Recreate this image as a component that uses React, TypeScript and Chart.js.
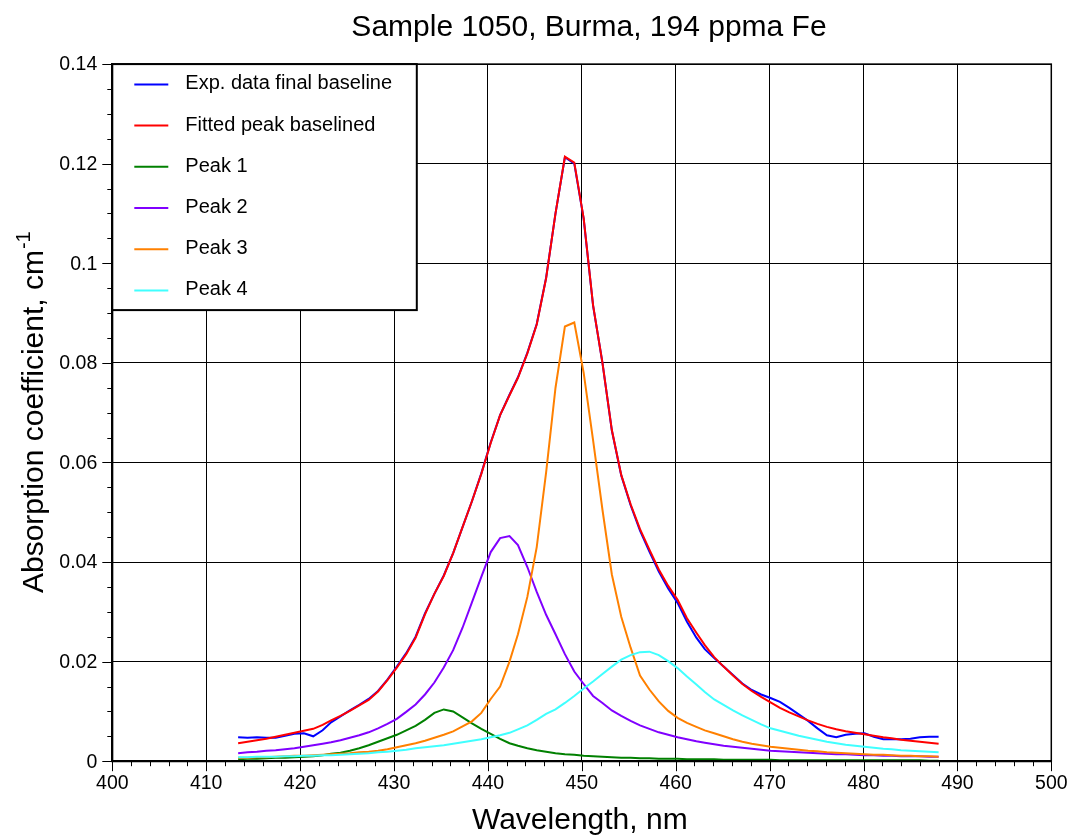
import React, { useEffect, useRef } from 'react';
import { Chart, registerables } from 'chart.js';

Chart.register(...registerables);

const wavelengths = [
  413.4, 414.4, 415.4, 416.4, 417.4, 418.4, 419.4, 420.4, 421.4, 422.4,
  423.3, 424.3, 425.3, 426.3, 427.3, 428.3, 429.3, 430.3, 431.3, 432.3,
  433.3, 434.3, 435.3, 436.3, 437.3, 438.3, 439.3, 440.3, 441.3, 442.3,
  443.2, 444.2, 445.2, 446.2, 447.2, 448.2, 449.2, 450.2, 451.2, 452.2,
  453.2, 454.2, 455.2, 456.2, 457.2, 458.2, 459.2, 460.2, 461.2, 462.2,
  463.1, 464.1, 465.1, 466.1, 467.1, 468.1, 469.1, 470.1, 471.1, 472.1,
  473.1, 474.1, 475.1, 476.1, 477.1, 478.1, 479.1, 480.1, 481.1, 482.1,
  483.0, 484.0, 485.0, 486.0, 487.0, 488.0,
];

const expData = [
  0.0048, 0.0047, 0.0048, 0.0047, 0.0047, 0.0051, 0.0055, 0.0056, 0.0050, 0.0062,
  0.0078, 0.0090, 0.0102, 0.0113, 0.0125, 0.0141, 0.0164, 0.0190, 0.0217, 0.0250,
  0.0297, 0.0336, 0.0373, 0.0418, 0.0470, 0.0522, 0.0578, 0.0640, 0.0695, 0.0736,
  0.0771, 0.0820, 0.0878, 0.0971, 0.1100, 0.1213, 0.1200, 0.1089, 0.0915, 0.0800,
  0.0664, 0.0574, 0.0514, 0.0463, 0.0421, 0.0381, 0.0347, 0.0318, 0.0280, 0.0248,
  0.0225, 0.0207, 0.0190, 0.0173, 0.0156, 0.0143, 0.0134, 0.0127, 0.0119, 0.0107,
  0.0094, 0.0081, 0.0066, 0.0052, 0.0048, 0.0053, 0.0055, 0.0056, 0.0049, 0.0044,
  0.0044, 0.0044, 0.0045, 0.0048, 0.0049, 0.0049,
];

const fittedPeak = [
  0.0036, 0.0039, 0.0042, 0.0045, 0.0049, 0.0053, 0.0057, 0.0061, 0.0065, 0.0073,
  0.0082, 0.0091, 0.0101, 0.0112, 0.0123, 0.0140, 0.0163, 0.0188, 0.0215, 0.0248,
  0.0295, 0.0336, 0.0372, 0.0418, 0.0470, 0.0522, 0.0577, 0.0639, 0.0695, 0.0735,
  0.0770, 0.0819, 0.0877, 0.0970, 0.1100, 0.1214, 0.1202, 0.1090, 0.0916, 0.0800,
  0.0665, 0.0575, 0.0516, 0.0466, 0.0425, 0.0385, 0.0352, 0.0324, 0.0287, 0.0258,
  0.0233, 0.0209, 0.0190, 0.0172, 0.0155, 0.0141, 0.0129, 0.0118, 0.0107, 0.0098,
  0.0090, 0.0082, 0.0075, 0.0069, 0.0064, 0.0060, 0.0057, 0.0054, 0.0051, 0.0048,
  0.0046, 0.0043, 0.0041, 0.0039, 0.0037, 0.0035,
];

const peak1 = [
  0.0004, 0.0005, 0.0005, 0.0006, 0.0007, 0.0007, 0.0008, 0.0009, 0.0010, 0.0012,
  0.0015, 0.0017, 0.0021, 0.0026, 0.0032, 0.0039, 0.0046, 0.0053, 0.0062, 0.0071,
  0.0083, 0.0097, 0.0104, 0.0100, 0.0088, 0.0076, 0.0065, 0.0055, 0.0045, 0.0036,
  0.0031, 0.0026, 0.0022, 0.0019, 0.0016, 0.0014, 0.0013, 0.0011, 0.0010, 0.0009,
  0.0008, 0.0007, 0.0007, 0.0006, 0.0006, 0.0005, 0.0005, 0.0005, 0.0004, 0.0004,
  0.0004, 0.0004, 0.0003, 0.0003, 0.0003, 0.0003, 0.0003, 0.0003, 0.0002, 0.0002,
  0.0002, 0.0002, 0.0002, 0.0002, 0.0002, 0.0002, 0.0002, 0.0002, 0.0002, 0.0002,
  0.0002, 0.0002, 0.0002, 0.0002, 0.0001, 0.0001,
];

const peak2 = [
  0.0016, 0.0018, 0.0019, 0.0021, 0.0022, 0.0024, 0.0026, 0.0029, 0.0032, 0.0035,
  0.0038, 0.0042, 0.0047, 0.0052, 0.0058, 0.0066, 0.0075, 0.0085, 0.0099, 0.0114,
  0.0134, 0.0158, 0.0188, 0.0223, 0.0268, 0.0319, 0.0370, 0.0420, 0.0448, 0.0452,
  0.0434, 0.0390, 0.0340, 0.0294, 0.0255, 0.0215, 0.0180, 0.0155, 0.0131, 0.0117,
  0.0102, 0.0091, 0.0081, 0.0072, 0.0065, 0.0058, 0.0053, 0.0048, 0.0044, 0.0040,
  0.0037, 0.0034, 0.0031, 0.0029, 0.0027, 0.0025, 0.0023, 0.0021, 0.0020, 0.0019,
  0.0018, 0.0017, 0.0016, 0.0015, 0.0014, 0.0014, 0.0013, 0.0012, 0.0012, 0.0011,
  0.0011, 0.0010, 0.0010, 0.0010, 0.0009, 0.0009,
];

const peak3 = [
  0.0007, 0.0007, 0.0008, 0.0008, 0.0009, 0.0010, 0.0011, 0.0011, 0.0012, 0.0013,
  0.0014, 0.0015, 0.0016, 0.0018, 0.0019, 0.0021, 0.0024, 0.0028, 0.0032, 0.0036,
  0.0041, 0.0047, 0.0053, 0.0060, 0.0070, 0.0080, 0.0097, 0.0125, 0.0150, 0.0200,
  0.0255, 0.0330, 0.0430, 0.0580, 0.0750, 0.0873, 0.0881, 0.0780, 0.0645, 0.0505,
  0.0375, 0.0290, 0.0228, 0.0172, 0.0144, 0.0120, 0.0101, 0.0087, 0.0077, 0.0069,
  0.0062, 0.0056, 0.0050, 0.0044, 0.0039, 0.0035, 0.0032, 0.0029, 0.0027, 0.0025,
  0.0023, 0.0021, 0.0020, 0.0018, 0.0017, 0.0016, 0.0015, 0.0014, 0.0013, 0.0013,
  0.0012, 0.0011, 0.0011, 0.0010, 0.0010, 0.0009,
];

const peak4 = [
  0.0008, 0.0008, 0.0009, 0.0009, 0.0009, 0.0010, 0.0010, 0.0011, 0.0011, 0.0012,
  0.0012, 0.0013, 0.0014, 0.0015, 0.0016, 0.0018, 0.0019, 0.0021, 0.0023, 0.0026,
  0.0028, 0.0030, 0.0032, 0.0035, 0.0038, 0.0041, 0.0044, 0.0048, 0.0052, 0.0057,
  0.0064, 0.0072, 0.0083, 0.0095, 0.0104, 0.0117, 0.0131, 0.0146, 0.0160, 0.0175,
  0.0190, 0.0204, 0.0213, 0.0219, 0.0220, 0.0213, 0.0201, 0.0187, 0.0170, 0.0154,
  0.0139, 0.0124, 0.0113, 0.0102, 0.0092, 0.0083, 0.0074, 0.0066, 0.0061, 0.0056,
  0.0051, 0.0047, 0.0043, 0.0039, 0.0036, 0.0033, 0.0031, 0.0029, 0.0027, 0.0025,
  0.0024, 0.0022, 0.0021, 0.0020, 0.0019, 0.0018,
];

const seriesLabels = [
  'Exp. data final baseline',
  'Fitted peak baselined',
  'Peak 1',
  'Peak 2',
  'Peak 3',
  'Peak 4',
];
const seriesColors = ['#0000ff', '#ff0000', '#008000', '#8000ff', '#ff8000', '#40ffff'];
const seriesValues = [expData, fittedPeak, peak1, peak2, peak3, peak4];

const xTickLabels = ['400', '410', '420', '430', '440', '450', '460', '470', '480', '490', '500'];
const yTickLabels = ['0', '0.02', '0.04', '0.06', '0.08', '0.1', '0.12', '0.14'];

const chartTitle = 'Sample 1050, Burma, 194 ppma Fe';
const xAxisTitle = 'Wavelength, nm';
const yAxisTitle = 'Absorption coefficient, cm';
const yAxisTitleSup = '-1';

const FONT = '"Liberation Sans", Arial, Helvetica, sans-serif';

const decorPlugin = {
  id: 'decor',
  afterDraw(chart: any) {
    const { ctx, chartArea: a } = chart;
    const xs = chart.scales.x;
    const ys = chart.scales.y;
    ctx.save();

    // plot frame
    ctx.strokeStyle = '#000';
    ctx.lineWidth = 1.5;
    ctx.strokeRect(a.left, a.top, a.right - a.left, a.bottom - a.top);
    ctx.lineWidth = 2;
    ctx.beginPath();
    ctx.moveTo(a.left, a.top);
    ctx.lineTo(a.left, a.bottom);
    ctx.lineTo(a.right, a.bottom);
    ctx.stroke();

    // tick marks
    ctx.lineWidth = 1;
    ctx.beginPath();
    const xMinor = 2;
    for (let i = 0; xs.min + i * xMinor <= xs.max + 1e-9; i++) {
      const v = xs.min + i * xMinor;
      const px = Math.round(xs.getPixelForValue(v)) + 0.5;
      const len = i % 5 === 0 ? 10 : 5;
      ctx.moveTo(px, a.bottom);
      ctx.lineTo(px, a.bottom + len);
    }
    const yMinor = 0.005;
    for (let i = 0; ys.min + i * yMinor <= ys.max + 1e-9; i++) {
      const v = ys.min + i * yMinor;
      const py = Math.round(ys.getPixelForValue(v)) + 0.5;
      const len = i % 4 === 0 ? 10 : 5;
      ctx.moveTo(a.left, py);
      ctx.lineTo(a.left - len, py);
    }
    ctx.stroke();

    // tick labels
    ctx.fillStyle = '#000';
    ctx.font = `19.5px ${FONT}`;
    ctx.textAlign = 'center';
    ctx.textBaseline = 'alphabetic';
    xs.ticks.forEach((t: any) => {
      const idx = Math.round((t.value - xs.min) / 10);
      const lbl = xTickLabels[idx];
      if (lbl !== undefined) ctx.fillText(lbl, xs.getPixelForValue(t.value), a.bottom + 28);
    });
    ctx.textAlign = 'right';
    ctx.textBaseline = 'middle';
    ys.ticks.forEach((t: any) => {
      const idx = Math.round(t.value / 0.02);
      const lbl = yTickLabels[idx];
      if (lbl !== undefined) ctx.fillText(lbl, a.left - 15, ys.getPixelForValue(t.value) + 1);
    });

    // chart title
    ctx.textAlign = 'center';
    ctx.textBaseline = 'alphabetic';
    ctx.font = `30px ${FONT}`;
    ctx.fillText(chartTitle, 589, 36);

    // x axis title
    ctx.fillText(xAxisTitle, (a.left + a.right) / 2 - 2, 829);

    // y axis title with superscript
    ctx.save();
    const cy = (a.top + a.bottom) / 2;
    ctx.translate(43, cy);
    ctx.rotate(-Math.PI / 2);
    ctx.font = `30px ${FONT}`;
    const w1 = ctx.measureText(yAxisTitle).width;
    ctx.font = `20px ${FONT}`;
    const w2 = ctx.measureText(yAxisTitleSup).width;
    const start = -(w1 + w2) / 2;
    ctx.textAlign = 'left';
    ctx.font = `30px ${FONT}`;
    ctx.fillText(yAxisTitle, start, 0);
    ctx.font = `20px ${FONT}`;
    ctx.fillText(yAxisTitleSup, start + w1 + 1, -13);
    ctx.restore();

    // legend box
    const lx = a.left;
    const ly = a.top;
    const lw = 304.5;
    const lh = 246;
    ctx.fillStyle = '#fff';
    ctx.fillRect(lx, ly, lw, lh);
    ctx.strokeStyle = '#000';
    ctx.lineWidth = 2;
    ctx.strokeRect(lx, ly, lw, lh);
    ctx.font = `20px ${FONT}`;
    ctx.textAlign = 'left';
    ctx.textBaseline = 'alphabetic';
    chart.data.datasets.forEach((ds: any, i: number) => {
      const ry = ly + 20.3 + i * 41.2;
      ctx.strokeStyle = ds.borderColor;
      ctx.lineWidth = 2;
      ctx.beginPath();
      ctx.moveTo(lx + 22, ry);
      ctx.lineTo(lx + 56, ry);
      ctx.stroke();
      ctx.fillStyle = '#000';
      ctx.fillText(ds.label, lx + 73, ry + 5);
    });

    ctx.restore();
  },
};

export default function App() {
  const ref = useRef<HTMLCanvasElement>(null);
  useEffect(() => {
    document.body.style.margin = '0';
    const canvas = ref.current;
    if (!canvas) return;
    const datasets = seriesValues.map((vals, si) => ({
      label: seriesLabels[si],
      data: wavelengths.map((w, i) => ({ x: w, y: vals[i] })),
      borderColor: seriesColors[si],
      backgroundColor: seriesColors[si],
      borderWidth: 2,
      pointRadius: 0,
      tension: 0,
      fill: false,
      order: seriesValues.length - si,
    }));
    const chart = new Chart(canvas, {
      type: 'line',
      data: { datasets },
      options: {
        animation: false,
        responsive: false,
        maintainAspectRatio: false,
        events: [],
        layout: { padding: { left: 0, top: 64.1, right: 21.7, bottom: 0 } },
        plugins: {
          legend: { display: false },
          title: { display: false },
          tooltip: { enabled: false },
        },
        scales: {
          x: {
            type: 'linear',
            min: 400,
            max: 500,
            ticks: { stepSize: 10, display: false },
            grid: { color: '#000', lineWidth: 1, drawTicks: false },
            border: { display: true, color: '#000', width: 2 },
            afterFit: (s: any) => {
              s.height = 78.8;
            },
          },
          y: {
            type: 'linear',
            min: 0,
            max: 0.14,
            ticks: { stepSize: 0.02, display: false },
            grid: { color: '#000', lineWidth: 1, drawTicks: false },
            border: { display: true, color: '#000', width: 2 },
            afterFit: (s: any) => {
              s.width = 112.3;
            },
          },
        },
      } as any,
      plugins: [decorPlugin],
    });
    return () => chart.destroy();
  }, []);
  return (
    <div style={{ width: 1073, height: 840 }}>
      <canvas ref={ref} width={1073} height={840} style={{ display: 'block' }} />
    </div>
  );
}
